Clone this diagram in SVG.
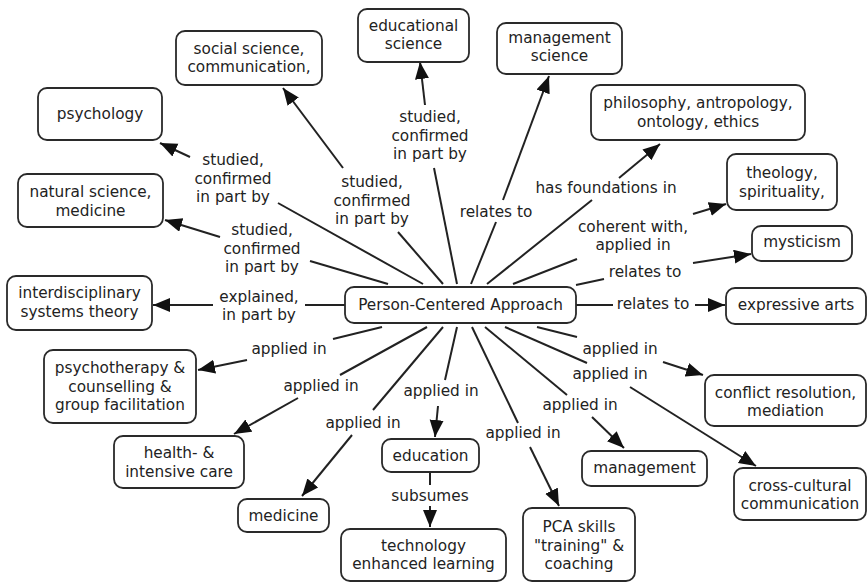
<svg xmlns="http://www.w3.org/2000/svg" width="868" height="583" viewBox="0 0 868 583">
  <defs>
    <style>
      .node rect { fill: #ffffff; stroke: #2a2a2a; stroke-width: 1.8; }
      text { font-family: "DejaVu Sans", Verdana, sans-serif; font-size: 15.3px; fill: #222222; text-anchor: middle; }
      .conn line { stroke: #222222; stroke-width: 2; fill: none; }
      .conn line.arr { marker-end: url(#head); }
    </style>
    <marker id="head" markerUnits="userSpaceOnUse" markerWidth="19" markerHeight="15" refX="17" refY="7" orient="auto">
      <path d="M0,0 L17,7 L0,14 Z" fill="#111111"/>
    </marker>
  </defs>
  <rect width="868" height="583" fill="#ffffff"/>

  <!-- connectors: concept to linking phrase, linking phrase to target -->
  <g id="connectors" class="conn">
    <line x1="423" y1="284" x2="278" y2="203"/>
    <line class="arr" x1="190" y1="157" x2="160" y2="143"/>
    <line x1="443" y1="284" x2="398" y2="232"/>
    <line class="arr" x1="343" y1="168" x2="283" y2="88"/>
    <line x1="457" y1="284" x2="434" y2="168"/>
    <line class="arr" x1="425" y1="105" x2="420" y2="62"/>
    <line x1="471" y1="284" x2="496" y2="222"/>
    <line class="arr" x1="503" y1="200" x2="549" y2="76"/>
    <line x1="487" y1="284" x2="592" y2="200"/>
    <line class="arr" x1="619" y1="178" x2="660" y2="144"/>
    <line x1="513" y1="284" x2="577" y2="259"/>
    <line class="arr" x1="693" y1="214" x2="726" y2="204"/>
    <line x1="576" y1="285" x2="604" y2="279"/>
    <line class="arr" x1="693" y1="263" x2="751" y2="254"/>
    <line x1="576" y1="305" x2="613" y2="305"/>
    <line class="arr" x1="695" y1="305" x2="725" y2="305"/>
    <line x1="345" y1="305" x2="305" y2="305"/>
    <line class="arr" x1="213" y1="305" x2="153" y2="305"/>
    <line x1="388" y1="284" x2="310" y2="261"/>
    <line class="arr" x1="220" y1="237" x2="165" y2="220"/>
    <line x1="382" y1="327" x2="333" y2="339"/>
    <line class="arr" x1="247" y1="360" x2="198" y2="370"/>
    <line x1="427" y1="327" x2="340" y2="375"/>
    <line class="arr" x1="298" y1="398" x2="234" y2="434"/>
    <line x1="443" y1="327" x2="373" y2="410"/>
    <line class="arr" x1="352" y1="435" x2="302" y2="496"/>
    <line x1="457" y1="327" x2="445" y2="380"/>
    <line class="arr" x1="438" y1="406" x2="435" y2="437"/>
    <line x1="430" y1="473" x2="430" y2="485"/>
    <line class="arr" x1="430" y1="506" x2="430" y2="527"/>
    <line x1="472" y1="327" x2="518" y2="423"/>
    <line class="arr" x1="530" y1="447" x2="559" y2="506"/>
    <line x1="485" y1="327" x2="567" y2="395"/>
    <line class="arr" x1="592" y1="417" x2="624" y2="448"/>
    <line x1="537" y1="327" x2="577" y2="337"/>
    <line class="arr" x1="663" y1="362" x2="703" y2="375"/>
    <line x1="505" y1="327" x2="587" y2="363"/>
    <line class="arr" x1="630" y1="387" x2="756" y2="466"/>
  </g>

  <!-- linking phrases -->
  <g id="labels">
    <text x="233" y="165">studied,<tspan x="233" y="183.5">confirmed</tspan><tspan x="233" y="202">in part by</tspan></text>
    <text x="372" y="187">studied,<tspan x="372" y="205.5">confirmed</tspan><tspan x="372" y="224">in part by</tspan></text>
    <text x="430" y="122">studied,<tspan x="430" y="140.5">confirmed</tspan><tspan x="430" y="159">in part by</tspan></text>
    <text x="496" y="217">relates to</text>
    <text x="606" y="193">has foundations in</text>
    <text x="633" y="232">coherent with,<tspan x="633" y="250">applied in</tspan></text>
    <text x="645" y="277">relates to</text>
    <text x="653" y="309">relates to</text>
    <text x="259" y="302">explained,<tspan x="259" y="320">in part by</tspan></text>
    <text x="262" y="235">studied,<tspan x="262" y="253.5">confirmed</tspan><tspan x="262" y="272">in part by</tspan></text>
    <text x="289" y="354">applied in</text>
    <text x="321" y="391">applied in</text>
    <text x="363" y="428">applied in</text>
    <text x="441" y="396">applied in</text>
    <text x="430" y="501">subsumes</text>
    <text x="523" y="438">applied in</text>
    <text x="580" y="410">applied in</text>
    <text x="620" y="354">applied in</text>
    <text x="610" y="379">applied in</text>
  </g>

  <!-- concepts -->
  <g id="pca" class="node"><rect x="345" y="287" width="231" height="36" rx="9"/><text x="460.5" y="309.5">Person-Centered Approach</text></g>
  <g id="psychology" class="node"><rect x="38" y="88" width="124" height="52" rx="9"/><text x="100" y="119">psychology</text></g>
  <g id="social-science" class="node"><rect x="176" y="31" width="146" height="54" rx="9"/><text x="249" y="54">social science,<tspan x="249" y="72">communication,</tspan></text></g>
  <g id="educational-science" class="node"><rect x="358" y="9" width="111" height="53" rx="9"/><text x="413.5" y="31">educational<tspan x="413.5" y="49">science</tspan></text></g>
  <g id="management-science" class="node"><rect x="497" y="23" width="125" height="51" rx="9"/><text x="559.5" y="43">management<tspan x="559.5" y="61">science</tspan></text></g>
  <g id="philosophy" class="node"><rect x="591" y="85" width="214" height="55" rx="9"/><text x="698" y="108">philosophy, antropology,<tspan x="698" y="127">ontology, ethics</tspan></text></g>
  <g id="theology" class="node"><rect x="727" y="154" width="110" height="56" rx="9"/><text x="782" y="178">theology,<tspan x="782" y="196.5">spirituality,</tspan></text></g>
  <g id="mysticism" class="node"><rect x="752" y="226" width="100" height="35" rx="9"/><text x="802" y="247">mysticism</text></g>
  <g id="expressive-arts" class="node"><rect x="726" y="288" width="140" height="36" rx="9"/><text x="796" y="310">expressive arts</text></g>
  <g id="natural-science" class="node"><rect x="18" y="174" width="145" height="53" rx="9"/><text x="90.5" y="197">natural science,<tspan x="90.5" y="215.5">medicine</tspan></text></g>
  <g id="systems-theory" class="node"><rect x="7" y="276" width="145" height="54" rx="9"/><text x="79.5" y="298">interdisciplinary<tspan x="79.5" y="317">systems theory</tspan></text></g>
  <g id="psychotherapy" class="node"><rect x="44" y="350" width="152" height="73" rx="9"/><text x="120" y="373">psychotherapy &amp;<tspan x="120" y="391.5">counselling &amp;</tspan><tspan x="120" y="410">group facilitation</tspan></text></g>
  <g id="health-care" class="node"><rect x="114" y="436" width="130" height="52" rx="9"/><text x="179" y="458">health- &amp;<tspan x="179" y="477">intensive care</tspan></text></g>
  <g id="medicine" class="node"><rect x="238" y="499" width="91" height="33" rx="9"/><text x="283.5" y="521">medicine</text></g>
  <g id="education" class="node"><rect x="382" y="439" width="97" height="33" rx="9"/><text x="430.5" y="461">education</text></g>
  <g id="tel" class="node"><rect x="341" y="529" width="165" height="52" rx="9"/><text x="423.5" y="551">technology<tspan x="423.5" y="569">enhanced learning</tspan></text></g>
  <g id="pca-skills" class="node"><rect x="523" y="508" width="112" height="73" rx="9"/><text x="579" y="532">PCA skills<tspan x="579" y="550.5">"training" &amp;</tspan><tspan x="579" y="569">coaching</tspan></text></g>
  <g id="management" class="node"><rect x="582" y="451" width="125" height="35" rx="9"/><text x="644.5" y="473">management</text></g>
  <g id="conflict-resolution" class="node"><rect x="705" y="375" width="161" height="51" rx="9"/><text x="785.5" y="398">conflict resolution,<tspan x="785.5" y="416">mediation</tspan></text></g>
  <g id="cross-cultural" class="node"><rect x="734" y="468" width="132" height="52" rx="9"/><text x="800" y="491">cross-cultural<tspan x="800" y="508.5">communication</tspan></text></g>
</svg>
